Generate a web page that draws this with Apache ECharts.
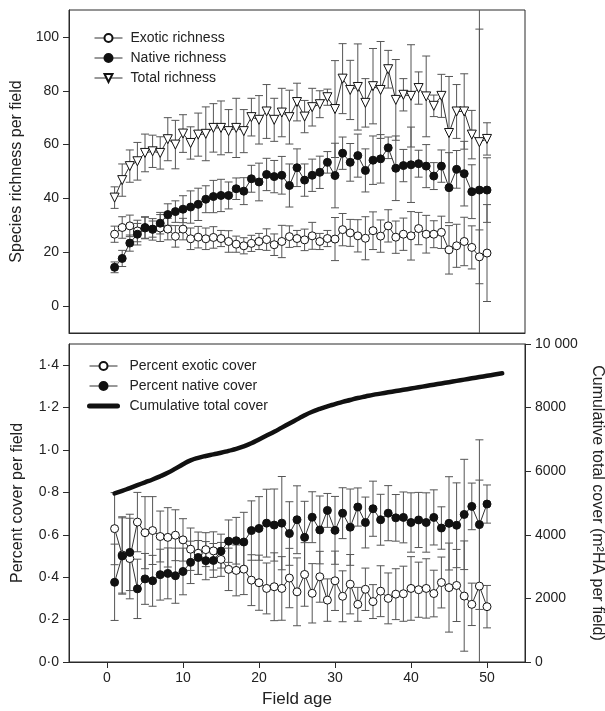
<!DOCTYPE html>
<html><head><meta charset="utf-8">
<script src="https://cdn.jsdelivr.net/npm/echarts@6/dist/echarts.min.js"></script>
<style>html,body{margin:0;padding:0;background:#fff}#c{width:605px;height:711px}</style>
</head><body><div id="c"></div>
<script>
// ---------- DATA ----------
const ages = [1,2,3,4,5,6,7,8,9,10,11,12,13,14,15,16,17,18,19,20,21,22,23,24,25,26,27,28,29,30,31,32,33,34,35,36,37,38,39,40,41,42,43,44,45,46,47,48,49,50];
const cumAges = [1,2,3,4,5,6,7,8,9,10,11,12,13,14,15,16,17,18,19,20,21,22,23,24,25,26,27,28,29,30,31,32,33,34,35,36,37,38,39,40,41,42,43,44,45,46,47,48,49,50,51,52];

const exoticRich = [26.7,29.2,29.8,27.9,29.0,28.5,29.0,28.6,25.9,28.6,25.0,25.6,25.0,25.5,25.1,24.0,23.0,22.4,23.3,24.0,24.7,22.8,24.0,25.8,25.1,24.6,26.1,24.0,25.1,24.9,28.4,27.2,26.1,25.2,28.0,26.0,29.8,25.6,26.7,26.1,28.8,26.7,26.7,27.4,20.9,22.4,24.0,21.8,18.3,19.7];
const exoticRichErr = [3,4,4,4,4,4,5,4,4,4,4,4,4,4,3,4,3,3,3,3,4,4,6,4,3,4,5,3,3,8,6,5,6,8,7,6,6,6,6,9,6,7,5,6,9,8,9,8,10,18];
const nativeRich = [14.4,17.7,23.4,26.7,29.2,28.6,30.8,34.0,35.1,36.0,36.8,37.8,39.7,40.7,41.1,41.1,43.6,42.7,47.3,46.1,48.9,48.1,48.6,44.8,51.4,46.8,48.6,49.7,53.4,48.5,56.8,53.4,55.9,50.4,54.2,54.7,58.8,51.2,52.2,52.5,52.9,52.0,48.3,52.0,44.0,50.8,49.2,42.5,43.1,43.1];
const nativeRichErr = [2,3,3,4,4,3,4,4,4,5,6,6,5,6,6,5,4,5,5,7,6,6,7,8,7,6,6,6,4,12,6,7,8,8,9,9,4,12,6,14,5,8,5,6,13,7,12,10,80,12];
const totalRich = [40.3,46.8,52.0,53.8,56.9,57.5,56.9,62.0,60.0,64.1,60.6,63.7,64.0,66.2,66.2,65.0,66.2,65.0,70.2,69.2,72.3,69.2,71.9,70.2,75.8,70.4,73.9,75.0,77.6,73.2,84.5,80.3,81.4,75.5,81.7,80.3,88.0,76.6,78.5,78.1,81.0,77.9,74.4,78.1,64.3,72.3,72.3,63.7,60.9,62.1];
const totalRichErr = [4,6,6,7,7,6,6,8,9,7,6,8,10,9,10,8,11,8,7,9,10,8,9,10,7,6,7,5,3,18,13,11,16,9,14,18,7,15,6,19,6,15,4,8,21,10,14,9,42,6];

const exoticCover = [0.629,0.505,0.488,0.660,0.610,0.620,0.592,0.588,0.598,0.576,0.532,0.513,0.530,0.524,0.484,0.437,0.432,0.438,0.386,0.374,0.347,0.355,0.347,0.396,0.331,0.413,0.324,0.402,0.292,0.383,0.310,0.367,0.272,0.343,0.285,0.334,0.300,0.320,0.322,0.347,0.341,0.347,0.323,0.375,0.351,0.361,0.311,0.272,0.358,0.261];
const exoticCoverErr = [0.17,0.18,0.19,0.14,0.17,0.16,0.12,0.14,0.12,0.10,0.10,0.10,0.08,0.09,0.08,0.10,0.12,0.12,0.12,0.13,0.12,0.16,0.15,0.14,0.16,0.15,0.14,0.12,0.10,0.14,0.12,0.14,0.08,0.10,0.08,0.12,0.12,0.12,0.13,0.15,0.13,0.14,0.11,0.12,0.21,0.17,0.26,0.10,0.50,0.10];
const nativeCover = [0.376,0.500,0.517,0.345,0.392,0.383,0.412,0.418,0.407,0.427,0.470,0.493,0.478,0.479,0.523,0.570,0.572,0.566,0.620,0.630,0.655,0.646,0.655,0.606,0.671,0.588,0.683,0.623,0.715,0.621,0.702,0.636,0.731,0.658,0.723,0.671,0.702,0.680,0.682,0.658,0.670,0.658,0.682,0.632,0.654,0.645,0.696,0.734,0.648,0.745];
const nativeCoverErr = [0.18,0.18,0.18,0.14,0.12,0.12,0.12,0.12,0.13,0.11,0.10,0.08,0.09,0.08,0.08,0.10,0.11,0.14,0.14,0.15,0.16,0.17,0.22,0.15,0.16,0.17,0.12,0.16,0.08,0.16,0.12,0.18,0.09,0.12,0.13,0.12,0.13,0.11,0.12,0.14,0.13,0.14,0.13,0.10,0.22,0.20,0.26,0.11,0.40,0.09];
const cumCover = [5300,5380,5470,5560,5650,5740,5840,5950,6080,6220,6340,6420,6480,6530,6580,6640,6700,6780,6880,7000,7120,7240,7370,7500,7630,7760,7870,7960,8040,8110,8180,8240,8300,8350,8400,8440,8480,8520,8560,8600,8640,8680,8720,8760,8800,8840,8880,8920,8960,9000,9040,9080];

const richTicks = [0,20,40,60,80,100];
const coverTicks = [0,0.2,0.4,0.6,0.8,1.0,1.2,1.4];
const ageTicks = [0,10,20,30,40,50];

// ---------- CHART ----------
const FONT = '"Liberation Sans", Arial, sans-serif';
const TXT = '#222';
const AX = '#2a2a2a';
const ERR = '#555';

function pairs(xs, ys){ return xs.map((x,i)=>[x, ys[i]]); }
function errData(xs, ys, es){ return xs.map((x,i)=>[x, ys[i]-es[i], ys[i]+es[i]]); }
function errSeries(xi, yi, data){
  return {
    type:'custom', xAxisIndex:xi, yAxisIndex:yi, clip:true, silent:true, z:1,
    encode:{x:0, y:[1,2]}, data:data,
    renderItem:function(params, api){
      const x = api.value(0), lo = api.value(1), hi = api.value(2);
      const p1 = api.coord([x, lo]), p2 = api.coord([x, hi]);
      const w = 4;
      const st = {stroke:ERR, lineWidth:1};
      return {type:'group', children:[
        {type:'line', shape:{x1:p1[0], y1:p1[1], x2:p2[0], y2:p2[1]}, style:st},
        {type:'line', shape:{x1:p1[0]-w, y1:p1[1], x2:p1[0]+w, y2:p1[1]}, style:st},
        {type:'line', shape:{x1:p2[0]-w, y1:p2[1], x2:p2[0]+w, y2:p2[1]}, style:st}
      ]};
    }
  };
}
function pointSeries(name, xi, yi, data, symbol, filled, size, rotate){
  return {
    type:'line', name:name, xAxisIndex:xi, yAxisIndex:yi, data:data,
    symbol:symbol, symbolSize:size, symbolRotate:rotate||0, showAllSymbol:true,
    lineStyle:{color:'#333', width:1},
    itemStyle:{color: filled ? '#111' : '#fff', borderColor:'#111', borderWidth:1},
    emphasis:{disabled:true}, z:3
  };
}
const dotFmt = v => v.toFixed(1).replace('.', '\u00B7');

const option = {
  animation:false,
  backgroundColor:'#fff',
  textStyle:{fontFamily:FONT},
  grid:[
    {left:69, top:10, width:456, height:323, show:true, borderColor:AX, borderWidth:1, outerBoundsMode:'none', containLabel:false},
    {left:69, top:344, width:456, height:318, show:true, borderColor:AX, borderWidth:1, outerBoundsMode:'none', containLabel:false}
  ],
  legend:[
    {data:['Exotic richness','Native richness','Total richness'], orient:'vertical', left:89, top:26,
     itemWidth:28, itemHeight:10, itemGap:6, selectedMode:false, lineStyle:{width:1},
     textStyle:{fontSize:14, color:TXT, fontFamily:FONT, lineHeight:14, padding:[0,0,0,3]}},
    {data:['Percent exotic cover','Percent native cover',
           {name:'Cumulative total cover', itemStyle:{opacity:0}, lineStyle:{width:5}}],
     orient:'vertical', left:82, top:354,
     itemWidth:28, itemHeight:10, itemGap:6, selectedMode:false, lineStyle:{width:1},
     textStyle:{fontSize:14, color:TXT, fontFamily:FONT, lineHeight:14, padding:[0,0,0,7]}}
  ],
  xAxis:[
    {gridIndex:0, type:'value', min:-5, max:55, axisLine:{onZero:false, lineStyle:{color:AX}}, axisTick:{show:false}, axisLabel:{show:false}, splitLine:{show:false}},
    {gridIndex:1, type:'value', min:-5, max:55, name:'Field age', nameLocation:'middle', nameGap:29,
     nameTextStyle:{fontSize:17, color:TXT, fontFamily:FONT},
     axisLine:{onZero:false, lineStyle:{color:AX}}, axisTick:{show:true, length:6, lineStyle:{color:AX}, customValues:ageTicks},
     axisLabel:{fontSize:14, color:TXT, margin:9, customValues:ageTicks}, splitLine:{show:false}}
  ],
  yAxis:[
    {gridIndex:0, type:'value', position:'left', min:-10, max:110, name:'Species richness per field', nameLocation:'middle', nameGap:43,
     nameTextStyle:{fontSize:16, color:TXT, fontFamily:FONT},
     axisLine:{onZero:false, lineStyle:{color:AX}}, axisTick:{show:true, length:6, lineStyle:{color:AX}, customValues:richTicks},
     axisLabel:{fontSize:14, color:TXT, margin:10, customValues:richTicks}, splitLine:{show:false}},
    {gridIndex:1, type:'value', position:'left', min:0, max:1.5, name:'Percent cover per field', nameLocation:'middle', nameGap:43,
     nameTextStyle:{fontSize:16, color:TXT, fontFamily:FONT},
     axisLine:{onZero:false, lineStyle:{color:AX}}, axisTick:{show:true, length:6, lineStyle:{color:AX}, customValues:coverTicks},
     axisLabel:{fontSize:14, color:TXT, margin:10, customValues:coverTicks, formatter:dotFmt}, splitLine:{show:false}},
    {gridIndex:1, type:'value', position:'right', offset:0, min:0, max:10000, interval:2000,
     name:'Cumulative total cover (m\u00B2HA per field)', nameLocation:'middle', nameGap:64, nameRotate:-90,
     nameTextStyle:{fontSize:16, color:TXT, fontFamily:FONT},
     axisLine:{show:true, onZero:false, lineStyle:{color:AX}}, axisTick:{show:true, length:6, lineStyle:{color:AX}},
     axisLabel:{fontSize:14, color:TXT, margin:10, formatter: v => v >= 10000 ? '10\u00A0000' : String(v)}, splitLine:{show:false}}
  ],
  series:[
    errSeries(0,0, errData(ages, exoticRich, exoticRichErr)),
    errSeries(0,0, errData(ages, nativeRich, nativeRichErr)),
    errSeries(0,0, errData(ages, totalRich, totalRichErr)),
    pointSeries('Exotic richness',0,0, pairs(ages, exoticRich), 'circle', false, 8),
    pointSeries('Native richness',0,0, pairs(ages, nativeRich), 'circle', true, 8),
    pointSeries('Total richness',0,0, pairs(ages, totalRich), 'triangle', false, 9, 180),

    errSeries(1,1, errData(ages, exoticCover, exoticCoverErr)),
    errSeries(1,1, errData(ages, nativeCover, nativeCoverErr)),
    pointSeries('Percent exotic cover',1,1, pairs(ages, exoticCover), 'circle', false, 8),
    pointSeries('Percent native cover',1,1, pairs(ages, nativeCover), 'circle', true, 8),
    {type:'line', name:'Cumulative total cover', xAxisIndex:1, yAxisIndex:2, data:pairs(cumAges, cumCover),
     symbol:'none', smooth:true, lineStyle:{color:'#111', width:4.5, cap:'round'}, itemStyle:{color:'#111'},
     emphasis:{disabled:true}, z:4}
  ]
};
const chart = echarts.init(document.getElementById('c'));
chart.setOption(option);
</script>
</body></html>
